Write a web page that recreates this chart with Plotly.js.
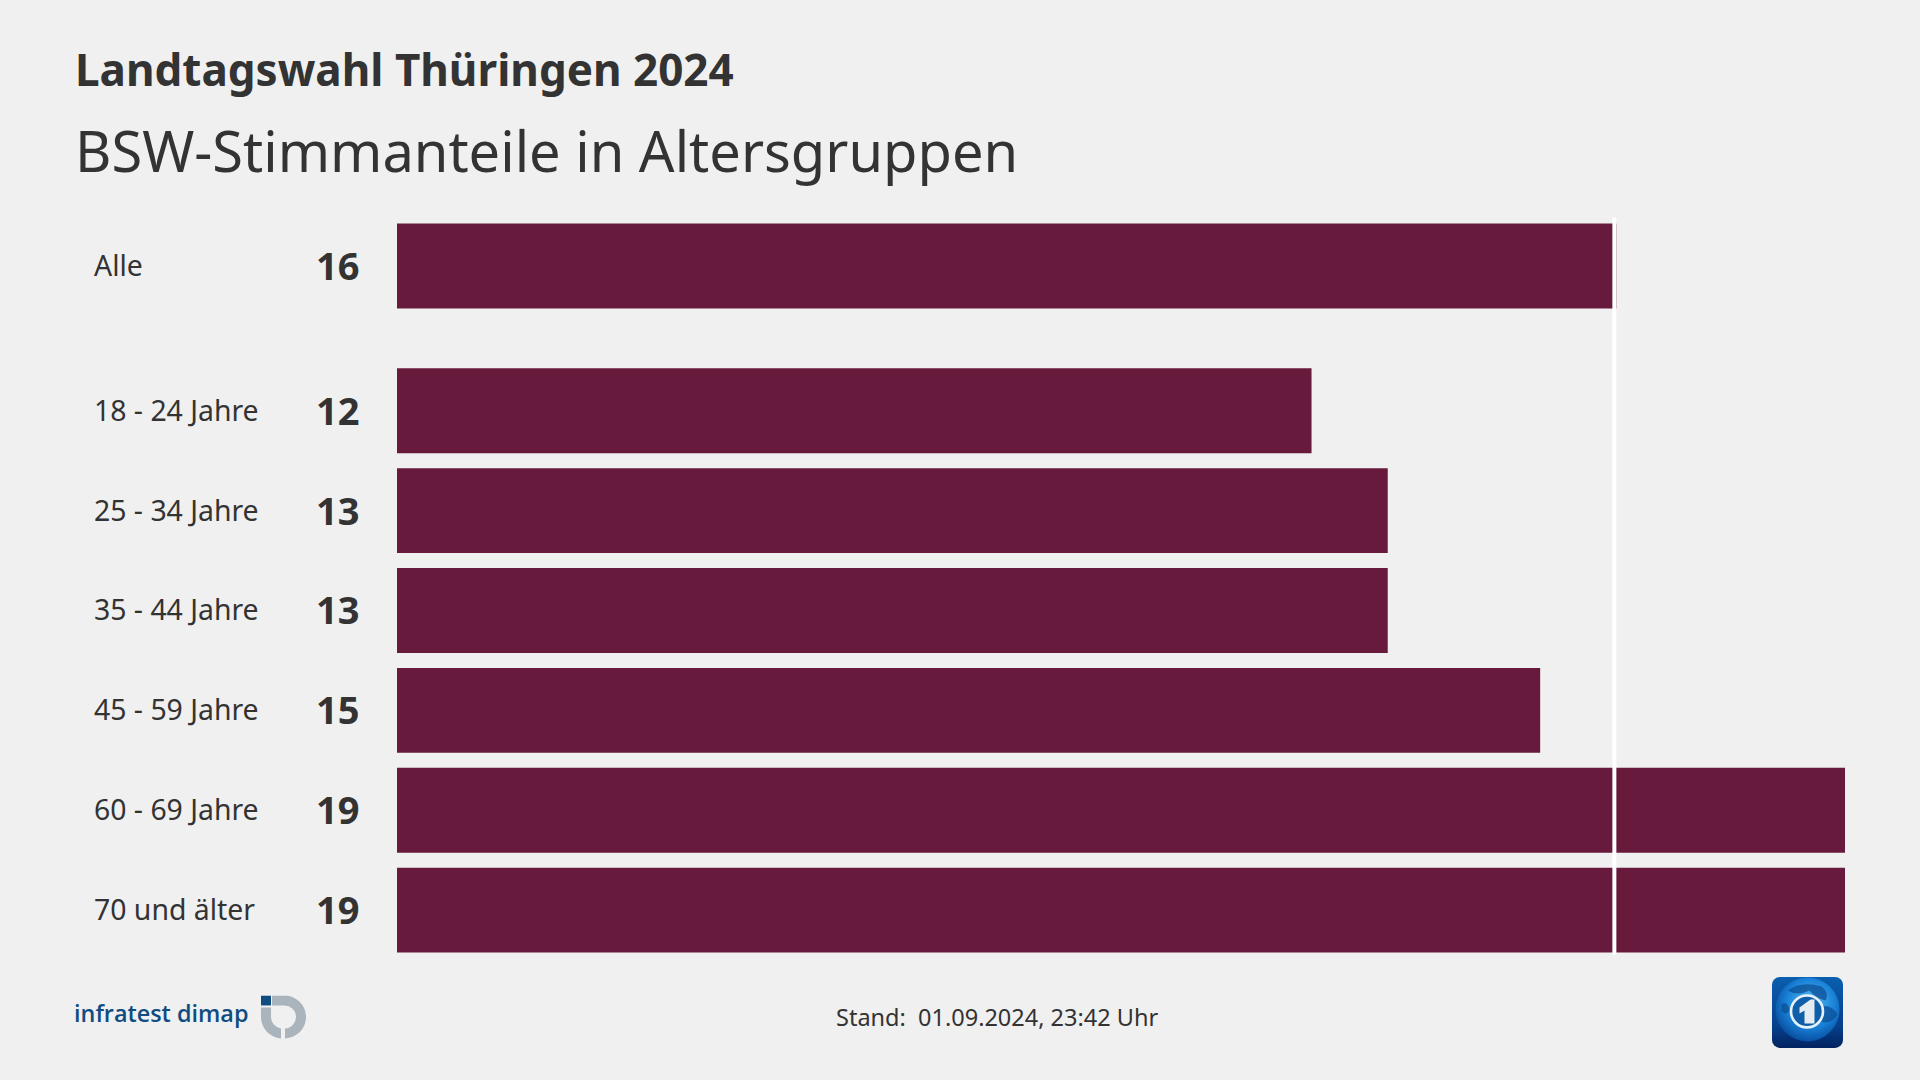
<!DOCTYPE html>
<html><head><meta charset="utf-8">
<script src="https://cdn.plot.ly/plotly-3.0.1.min.js"></script>
<style>html,body{margin:0;padding:0;background:#f0f0f0}#c{width:1920px;height:1080px}</style>
</head><body><div id="c"></div>
<script>
const mainTitle = "Landtagswahl Thüringen 2024";
const subTitle = "BSW-Stimmanteile in Altersgruppen";
const footer = "Stand:  01.09.2024, 23:42 Uhr";
const totalCategory = ["Alle"];
const totalValue = [16];
const ageCategories = ["18 - 24 Jahre","25 - 34 Jahre","35 - 44 Jahre","45 - 59 Jahre","60 - 69 Jahre","70 und älter"];
const ageValues = [12,13,13,15,19,19];
const barColor = "#681a3d", ink = "#333333", fontName = "Noto Sans";

const W=1920,H=1080,L=397,R=75,T=215.5,B=119.5;
const plotH=H-T-B;
function labels(cats,vals,yref){
  const out=[];
  cats.forEach((c,i)=>{
    out.push({xref:"paper",yref,x:0,y:c,xshift:-305,yshift:1,xanchor:"left",yanchor:"middle",showarrow:false,text:c,font:{family:fontName,size:28.4,color:ink}});
    out.push({xref:"paper",yref,x:0,y:c,xshift:-36,yshift:1,xanchor:"right",yanchor:"middle",showarrow:false,text:"<b>"+vals[i]+"</b>",font:{family:fontName,size:38,color:ink}});
  });
  return out;
}
const markSvg = `<svg xmlns="http://www.w3.org/2000/svg" width="46" height="46" viewBox="0 0 46 46">
<rect x="1" y="0" width="10" height="10" fill="#0f4c81"/>
<path fill="#a9b4bd" d="M12 0 H24 A21.5 21.5 0 0 1 25 43 V33 A11.5 11.5 0 0 0 24 10 H12 Z"/>
<path fill="#a9b4bd" d="M1 12 H11 V21 A11.5 11.5 0 0 0 21 33 V43 A21.5 21.5 0 0 1 1 21 Z"/></svg>`;
const tsSvg = `<svg xmlns="http://www.w3.org/2000/svg" width="72" height="72" viewBox="0 0 72 72">
<defs><linearGradient id="b" x1="0" y1="0" x2="0" y2="1"><stop offset="0" stop-color="#0a5fae"/><stop offset="0.7" stop-color="#063f8c"/><stop offset="1" stop-color="#02235f"/></linearGradient>
<radialGradient id="g" cx="0.55" cy="0.4" r="0.7"><stop offset="0" stop-color="#5cc0f2"/><stop offset="0.55" stop-color="#1880d6"/><stop offset="1" stop-color="#033a8a"/></radialGradient></defs>
<rect x="0.5" y="0.5" width="71" height="71" rx="8" fill="url(#b)"/>
<circle cx="36" cy="33" r="32" fill="url(#g)"/>
<path d="M16 14 Q30 4 50 10 Q58 16 54 24 Q44 22 38 14 Q26 20 16 14Z M50 30 Q60 28 66 38 Q58 50 48 44Z M10 28 Q16 24 18 34 Q14 40 10 34Z" fill="#0c4f96" opacity="0.75"/>
<circle cx="35.5" cy="35" r="16" fill="#0f5ea9" stroke="#e6f1f9" stroke-width="2.6"/>
<path d="M28 31 L39 23 H43 V47 H33 V34 L28 37Z" fill="#e4ebf1"/></svg>`;
const uri = s => "data:image/svg+xml;charset=utf-8," + encodeURIComponent(s);

const data=[
 {type:"bar",orientation:"h",x:totalValue,y:totalCategory,xaxis:"x",yaxis:"y",marker:{color:barColor,line:{width:0}},hoverinfo:"skip"},
 {type:"bar",orientation:"h",x:ageValues,y:ageCategories,xaxis:"x",yaxis:"y2",marker:{color:barColor,line:{width:0}},hoverinfo:"skip"}
];
const layout={
 width:W,height:H,paper_bgcolor:"#f0f0f0",plot_bgcolor:"#f0f0f0",showlegend:false,bargap:0.15,
 margin:{l:L,r:R,t:T,b:B,pad:0},
 title:{text:"<b>"+mainTitle+"</b>",xref:"container",x:75/W,xanchor:"left",yref:"container",y:1-71/H,yanchor:"middle",pad:{l:0,r:0,t:0,b:0},font:{family:fontName,size:44,color:ink}},
 xaxis:{range:[0,19],domain:[0,1],anchor:"y2",visible:false,fixedrange:true},
 yaxis:{type:"category",domain:[645/plotH,1],anchor:"x",visible:false,fixedrange:true},
 yaxis2:{type:"category",domain:[0,600/plotH],anchor:"x",visible:false,autorange:"reversed",fixedrange:true},
 shapes:[{type:"rect",layer:"above",xref:"x",xsizemode:"pixel",xanchor:totalValue[0],x0:-4,x1:0,yref:"paper",y0:(960.5-955)/plotH,y1:1-1.5/plotH,fillcolor:"#ffffff",line:{width:0}}],
 annotations:[
  {xref:"paper",yref:"paper",x:(73-L)/(W-L-R),y:(960.5-149)/plotH,xanchor:"left",yanchor:"middle",showarrow:false,text:subTitle,font:{family:fontName,size:56,color:ink}},
  {xref:"paper",yref:"paper",x:(997-L)/(W-L-R),y:(960.5-1018)/plotH,xanchor:"center",yanchor:"middle",showarrow:false,text:footer,font:{family:fontName,size:23.5,color:ink}},
  {xref:"paper",yref:"paper",x:(72-L)/(W-L-R),y:(960.5-1014)/plotH,xanchor:"left",yanchor:"middle",showarrow:false,text:"infratest dimap",font:{family:"Open Sans",size:23.4,weight:600,color:"#0f4c81"}},
  ...labels(totalCategory,totalValue,"y"),
  ...labels(ageCategories,ageValues,"y2")
 ],
 images:[
  {source:uri(markSvg),xref:"paper",yref:"paper",x:(260-L)/(W-L-R),y:(960.5-996)/plotH,sizex:46/(W-L-R),sizey:46/plotH,sizing:"stretch",xanchor:"left",yanchor:"top",layer:"above"},
  {source:uri(tsSvg),xref:"paper",yref:"paper",x:(1771.5-L)/(W-L-R),y:(960.5-977)/plotH,sizex:72/(W-L-R),sizey:72/plotH,sizing:"stretch",xanchor:"left",yanchor:"top",layer:"above"}
 ]
};
Plotly.newPlot("c",data,layout,{staticPlot:true,displayModeBar:false});
</script></body></html>
